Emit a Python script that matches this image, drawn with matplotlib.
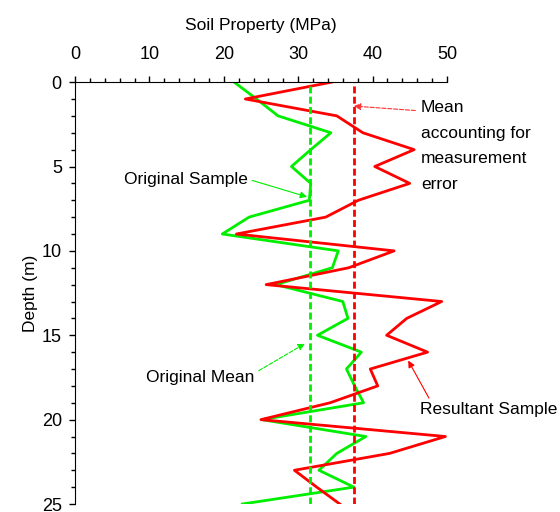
import matplotlib
matplotlib.use("Agg")
import matplotlib.pyplot as plt
import numpy as np

plt.rcParams['font.family'] = ['Liberation Sans', 'DejaVu Sans']

# depths every metre
depth = np.arange(0, 26)
original = [21.4, 24.4, 27.3, 34.4, 31.7, 29.1, 31.7, 31.5, 23.4, 19.8,
            35.4, 34.6, 27.0, 36.0, 36.7, 32.6, 38.5, 36.5, 37.6, 38.8,
            25.1, 39.1, 35.2, 32.8, 37.5, 22.5]
resultant = [34.5, 22.9, 35.2, 38.7, 45.6, 40.3, 45.0, 38.1, 33.7, 21.7,
             42.9, 36.8, 25.7, 49.3, 44.6, 41.9, 47.4, 39.7, 40.7, 34.3,
             25.0, 49.8, 42.3, 29.5, 32.5, 35.6]
original_mean = 31.6
adjusted_mean = 37.5

fig = plt.figure(figsize=(5.6, 5.12), dpi=100)
ax = fig.add_axes([0.134, 0.0156, 0.664, 0.824])

ax.plot(original, depth, color='#00ee00', lw=2)
ax.plot(resultant, depth, color='#ff0000', lw=2)
ax.axvline(original_mean, color='#00ee00', lw=2, ls=(0, (2.5, 1.2)))
ax.axvline(adjusted_mean, color='#ff0000', lw=2, ls=(0, (2.5, 1.2)))

ax.set_xlim(0, 50)
ax.set_ylim(25, 0)
ax.xaxis.tick_top()
ax.xaxis.set_label_position('top')
ax.set_xticks(np.arange(0, 51, 10))
ax.set_xticks(np.arange(0, 51, 2), minor=True)
ax.set_yticks(np.arange(0, 26, 5))
ax.set_yticks(np.arange(0, 26, 1), minor=True)
ax.tick_params(which='major', length=4.5, width=1, labelsize=13, pad=9)
ax.tick_params(which='minor', length=3, width=1)
ax.tick_params(axis='y', which='major', pad=5)
for s in ['right', 'bottom']:
    ax.spines[s].set_visible(False)
ax.set_xlabel('Soil Property (MPa)', fontsize=12.5, labelpad=12)
ax.set_ylabel('Depth (m)', fontsize=12.5, labelpad=3)

fs = 12.5
ax.annotate('Mean\naccounting for\nmeasurement\nerror', xy=(adjusted_mean, 1.42),
            xytext=(46.5, 1.05), fontsize=fs, va='top', ha='left',
            linespacing=1.9, annotation_clip=False,
            arrowprops=dict(arrowstyle='-|>', color='#ff3030', lw=0.8,
                            ls='--', shrinkA=2, shrinkB=0,
                            mutation_scale=10, relpos=(0, 0.88)))
ax.annotate('Original Sample', xy=(31.2, 6.8), xytext=(6.6, 5.75),
            fontsize=fs, va='center', ha='left', annotation_clip=False,
            arrowprops=dict(arrowstyle='-|>', color='#00ee00', lw=0.8,
                            shrinkA=1, shrinkB=0, mutation_scale=10,
                            relpos=(1, 0.5)))
ax.annotate('Original Mean', xy=(30.9, 15.5), xytext=(9.6, 17.5),
            fontsize=fs, va='center', ha='left', annotation_clip=False,
            arrowprops=dict(arrowstyle='-|>', color='#00ee00', lw=0.8,
                            ls='--', shrinkA=1, shrinkB=0,
                            mutation_scale=10, relpos=(1, 0.8)))
ax.annotate('Resultant Sample', xy=(44.8, 16.5), xytext=(46.4, 19.4),
            fontsize=fs, va='center', ha='left', annotation_clip=False,
            arrowprops=dict(arrowstyle='-|>', color='#ff0000', lw=0.8,
                            shrinkA=1, shrinkB=0, mutation_scale=10,
                            relpos=(0.08, 1.0)))

fig.savefig('out.png', dpi=100)
